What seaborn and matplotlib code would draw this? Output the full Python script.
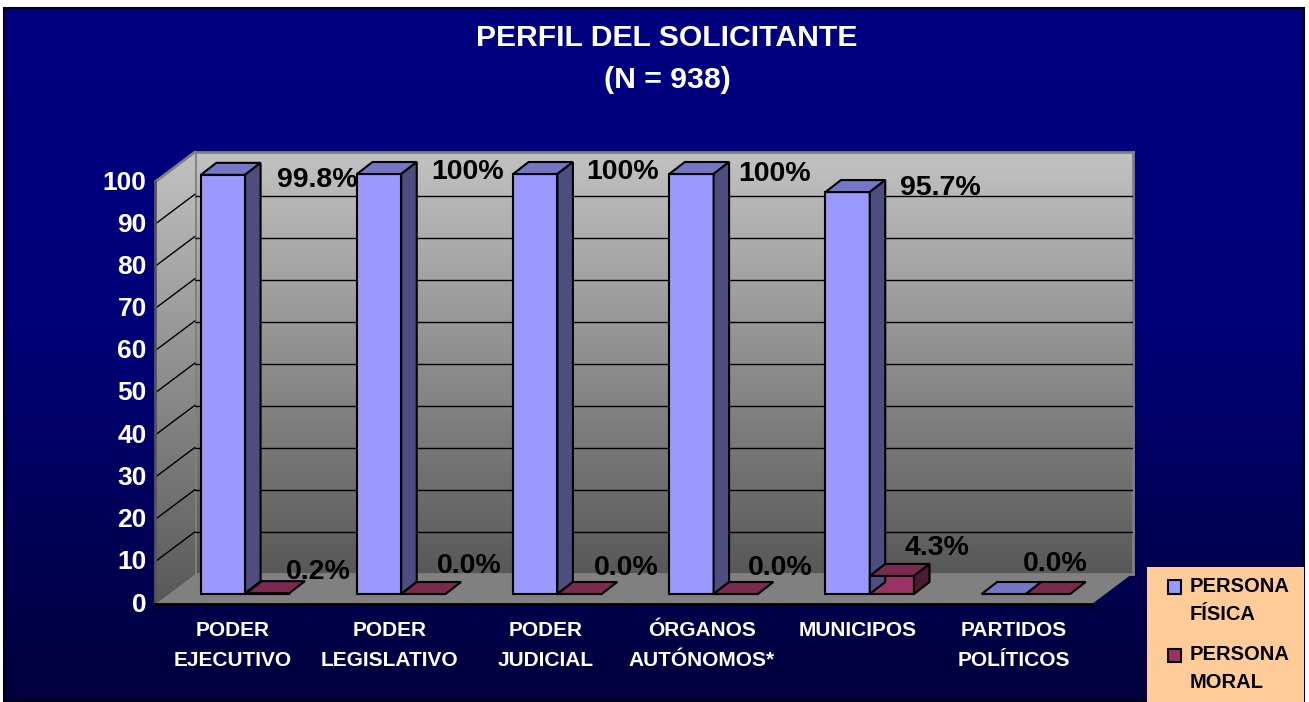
import numpy as np
import pandas as pd
import seaborn as sns
import matplotlib.pyplot as plt
from matplotlib.colors import LinearSegmentedColormap
from matplotlib.patches import Polygon, Rectangle
from matplotlib.transforms import Affine2D

# Chart values
categorias = ["PODER\nEJECUTIVO", "PODER\nLEGISLATIVO", "PODER\nJUDICIAL",
              "ÓRGANOS\nAUTÓNOMOS*", "MUNICIPOS", "PARTIDOS\nPOLÍTICOS"]
persona_fisica = [99.8, 100, 100, 100, 95.7, 0]
persona_moral = [0.2, 0, 0, 0, 4.3, 0]
etiquetas_fisica = ["99.8%", "100%", "100%", "100%", "95.7%", ""]
etiquetas_moral = ["0.2%", "0.0%", "0.0%", "0.0%", "4.3%", "0.0%"]
y_ticks = [0, 10, 20, 30, 40, 50, 60, 70, 80, 90, 100]

# Label offsets from the bar top, in pixels
fisica_dx = [94, 88, 87, 83, 93, 0]
fisica_dy = [-5, 2, 2, 0, 4, 0]
moral_dx = [51, 46, 47, 45, 45, 7]
moral_dy = [21, 28, 26, 26, 28, 30]

W, H = 1309, 702
FONT = ["Liberation Sans", "DejaVu Sans"]

sns.set_theme(style="ticks")
plt.rcParams["font.family"] = FONT
plt.rcParams["font.weight"] = "bold"

df = pd.DataFrame({
    "categoria": categorias * 2,
    "valor": persona_fisica + persona_moral,
    "serie": ["PERSONA\nFÍSICA"] * 6 + ["PERSONA\nMORAL"] * 6,
})

fig = plt.figure(figsize=(W / 100, H / 100), dpi=100, facecolor="white")


def box(x0, y0, x1, y1, z):
    # axes from pixel corners, y counted from the top
    return fig.add_axes([x0 / W, 1 - y1 / H, (x1 - x0) / W, (y1 - y0) / H], zorder=z)


def gradient(ax, stops, extent):
    cmap = LinearSegmentedColormap.from_list("g", stops)
    return ax.imshow(np.linspace(0, 1, 256).reshape(-1, 1), cmap=cmap, aspect="auto",
                     extent=extent, origin="upper", zorder=0)


# Dark blue background and border
ax_bg = box(0, 0, W, H, 0)
ax_bg.axis("off")
gradient(ax_bg, [(0, "#000080"), (0.45, "#000078"), (1, "#00003c")], (4, 1304, 702, 8))
ax_bg.set_xlim(0, W)
ax_bg.set_ylim(H, 0)
ax_bg.add_patch(Rectangle((4, 8), 1300, 694, fill=False, ec="black", lw=1.5, zorder=2))
ax_bg.add_patch(Rectangle((1147, 567), 157, 135, fc="#FFCC99", ec="none", zorder=3))

WALL = ["#C2C2C2", "#585858"]

# Back wall with the horizontal grid
ax_wall = box(195, 152, 1133, 574, 1)
gradient(ax_wall, WALL, (0, 1, 0, 100.5))
ax_wall.set_xlim(0, 1)
ax_wall.set_ylim(0, 100.5)
ax_wall.set_xticks([])
ax_wall.set_yticks(y_ticks[1:-1])
ax_wall.set_yticklabels([])
ax_wall.tick_params(length=0)
ax_wall.grid(axis="y", color="black", lw=1)
ax_wall.set_axisbelow(False)
for s in ax_wall.spines.values():
    s.set_color("#808080")
    s.set_linewidth(2)

# Front plane: axis labels, side wall and floor
ax = box(155, 182, 1092, 604, 2)
ax.patch.set_alpha(0)
dx = 40 / (937 / 6)
dy = 30 / 4.22

side = Polygon([(-0.5, 0), (-0.5 + dx, dy), (-0.5 + dx, 100 + dy), (-0.5, 100)],
               closed=True, transform=ax.transData, fc="none", ec="none", clip_on=False)
ax.add_patch(side)
im = gradient(ax, WALL, (-0.5, -0.5 + dx, 0, 100 + dy))
im.set_clip_path(side)
im.set_clip_box(fig.bbox)
ax.set_xlim(-0.5, 5.5)
ax.set_ylim(0, 100)
ax.add_patch(Polygon([(-0.5, 0), (5.5, 0), (5.5 + dx, dy), (-0.5 + dx, dy)], closed=True,
                     fc="#808080", ec="none", clip_on=False, zorder=1))
for v in y_ticks[1:-1]:
    ax.plot([-0.5, -0.5 + dx], [v, v + dy], color="black", lw=1, clip_on=False, zorder=1)
ax.plot([-0.5, -0.5 + dx], [100, 100 + dy], color="#808080", lw=2, clip_on=False, zorder=1)

ax.set_xticks(range(6))
ax.set_xticklabels(categorias, fontsize=15, color="white", fontweight="bold", linespacing=1.7)
ax.set_xticks(np.arange(-0.5, 6, 1), minor=True)
ax.set_yticks(y_ticks)
ax.set_yticklabels(y_ticks, fontsize=19, color="white", fontweight="bold")
ax.tick_params(axis="x", which="major", length=0, pad=12.5)
ax.tick_params(axis="x", which="minor", length=5, width=1, color="black")
ax.tick_params(axis="y", length=2, width=1, color="black", pad=4)
for lab in ax.get_yticklabels():
    lab.set_transform(lab.get_transform() + Affine2D().translate(0, 2))
sns.despine(ax=ax, top=True, right=True)
ax.spines["left"].set_color("#555555")
ax.spines["left"].set_linewidth(2)
ax.spines["bottom"].set_color("black")
ax.spines["bottom"].set_linewidth(2)
ax.set_xlabel("")
ax.set_ylabel("")

# Bars sit a little behind the front plane
ax_bars = box(167, 174, 1104, 594, 3)
ax_bars.patch.set_alpha(0)
sns.barplot(data=df, x="categoria", y="valor", hue="serie",
            palette=["#9999FF", "#993366"], saturation=1, width=0.567, gap=0,
            edgecolor="black", linewidth=1.5, ax=ax_bars, clip_on=False)
ax_bars.set_xlim(-0.5, 5.5)
ax_bars.set_ylim(0, 100)

bx = 15.5 / (937 / 6)
by = 12 / 4.2
n = len(categorias)
for i, p in enumerate(list(ax_bars.patches)):
    p.set_clip_on(False)
    x0, w, h = p.get_x(), p.get_width(), p.get_height()
    top_c, side_c = ("#7676C6", "#4D4D80") if i < n else ("#7A294F", "#4D1A33")
    ax_bars.add_patch(Polygon([(x0, h), (x0 + w, h), (x0 + w + bx, h + by), (x0 + bx, h + by)],
                              closed=True, fc=top_c, ec="black", lw=1.5, clip_on=False, zorder=1.5))
    if h > 0.5:
        ax_bars.add_patch(Polygon([(x0 + w, 0), (x0 + w + bx, by), (x0 + w + bx, h + by), (x0 + w, h)],
                                  closed=True, fc=side_c, ec="black", lw=1.5, clip_on=False, zorder=1.5))

# Data labels
for i in range(n):
    p1, p2 = ax_bars.patches[i], ax_bars.patches[n + i]
    if etiquetas_fisica[i]:
        ax_bars.annotate(etiquetas_fisica[i], (p1.get_x() + p1.get_width() / 2, persona_fisica[i]),
                         xytext=(fisica_dx[i], fisica_dy[i]), textcoords="offset pixels",
                         ha="center", va="center", fontsize=20.5, color="black", annotation_clip=False, zorder=5)
    ax_bars.annotate(etiquetas_moral[i], (p2.get_x() + p2.get_width() / 2, persona_moral[i]),
                     xytext=(moral_dx[i], moral_dy[i]), textcoords="offset pixels",
                     ha="center", va="center", fontsize=20.5, color="black", annotation_clip=False, zorder=5)

sns.move_legend(ax_bars, loc="upper left", bbox_to_anchor=(1162 / W, 1 - 571 / H),
                bbox_transform=fig.transFigure, title=None, frameon=False, fontsize=14.5,
                labelcolor="black", handlelength=0.65, handleheight=0.65, handletextpad=0.4,
                labelspacing=1.05, borderpad=0.3, borderaxespad=0)
leg = ax_bars.get_legend()
for t in leg.get_texts():
    t.set_linespacing(1.6)
    t.set_fontweight("bold")
# Excel lines the key up with the first text line
for h in leg.legend_handles:
    h.set_y(h.get_y() + 10)
    h.set_linewidth(1.5)

ax_bars.set_xticks([])
ax_bars.set_yticks([])
ax_bars.set_xlabel("")
ax_bars.set_ylabel("")
for s in ax_bars.spines.values():
    s.set_visible(False)

fig.text(667 / W, 1 - 59 / H, "PERFIL DEL SOLICITANTE\n(N = 938)", ha="center", va="center",
         fontsize=21.7, color="white", fontweight="bold", linespacing=1.6)

fig.savefig("out.png", dpi=100)
